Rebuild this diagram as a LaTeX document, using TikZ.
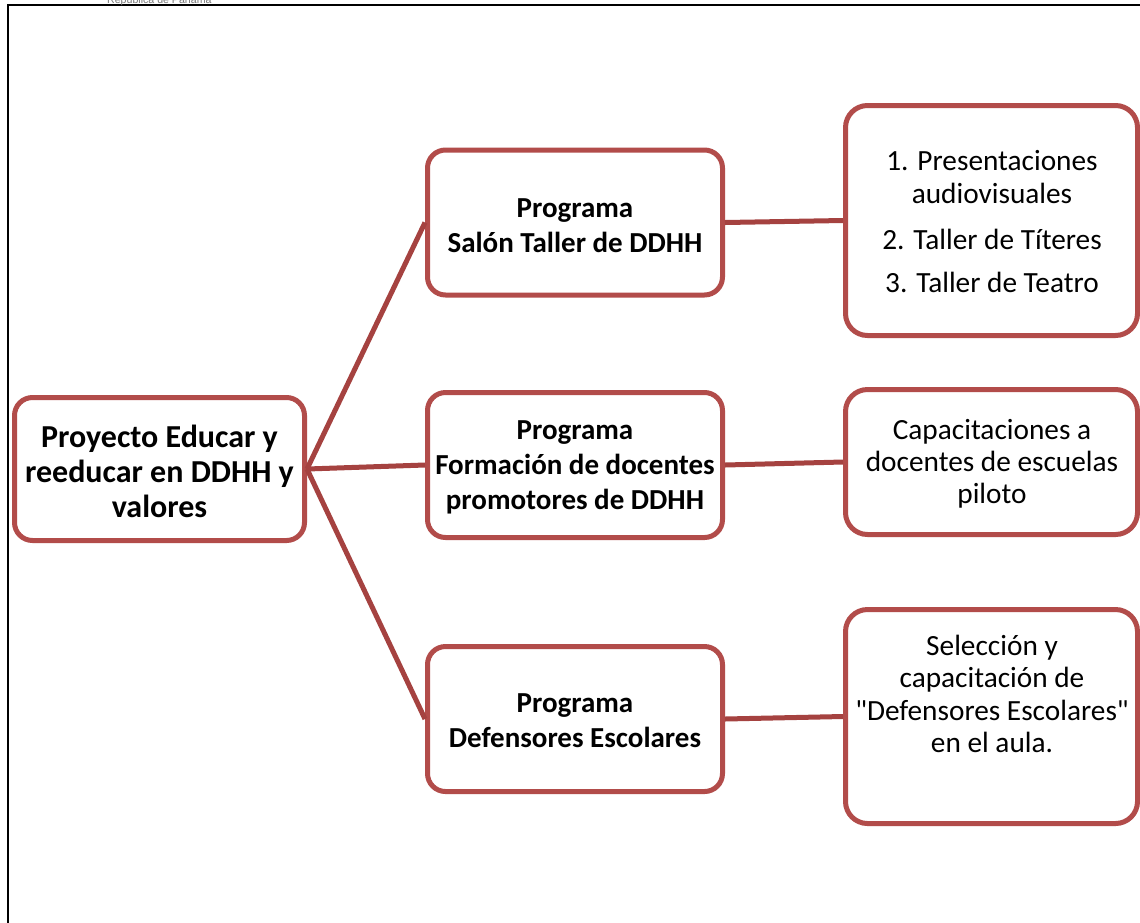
\documentclass[tikz,border=0pt]{standalone}
\usepackage{fontspec}
\setmainfont{Carlito}
\newfontfamily\headfont{Liberation Sans}
\definecolor{boxred}{RGB}{178,76,74}
\definecolor{linered}{RGB}{165,66,64}
\definecolor{headgray}{RGB}{120,120,120}
\begin{document}
\begin{tikzpicture}[x=1pt,y=-1pt,
  box/.style={draw=boxred, line width=5pt, rounded corners=18pt, fill=white, inner sep=0pt},
  rootbox/.style={box, minimum width=290pt, minimum height=143pt},
  midbox/.style={box, minimum width=295pt, minimum height=145pt},
  rightbox/.style={box, rounded corners=22pt, minimum width=292pt},
  roottxt/.style={align=center, font=\fontsize{32}{35}\selectfont\bfseries, inner sep=0pt},
  boldtxt/.style={align=center, font=\fontsize{29}{35}\selectfont\bfseries, inner sep=0pt},
  plaintxt/.style={align=center, font=\fontsize{29.3}{32.5}\selectfont, inner sep=0pt},
  link/.style={draw=linered, line width=5pt}
]
\useasboundingbox (0,0) rectangle (1140,922);
\clip (0,0) rectangle (1140,922);
\fill[white] (0,0) rectangle (1140,922);
% page frame
\draw[line width=2pt, black] (1141,5) -- (8,5) -- (8,923);
\node[font=\headfont\fontsize{10.6}{12}\selectfont, text=headgray, anchor=base west, inner sep=0pt] (hdr) at (107,3) {República de Panamá};

% boxes
\node[rootbox] (root) at (159.5,469) {};
\node[midbox] (m1) at (575,222.5) {};
\node[midbox] (m2) at (575,465) {};
\node[midbox] (m3) at (575,719) {};
\node[rightbox, minimum height=230pt] (r1) at (991.5,220.5) {};
\node[rightbox, minimum height=145pt] (r2) at (991.5,462) {};
\node[rightbox, minimum height=214pt] (r3) at (991.5,716.5) {};

% connectors
\draw[link] (root.east) -- (m1.west);
\draw[link] (root.east) -- (m2.west);
\draw[link] (root.east) -- (m3.west);
\draw[link] (m1.east) -- (r1.west);
\draw[link] (m2.east) -- (r2.west);
\draw[link] (m3.east) -- (r3.west);

% texts
\node[roottxt] (troot) at (159.5,471) {Proyecto Educar y\\reeducar en DDHH y\\valores};
\node[boldtxt] (tm1) at (575,226) {Programa\\Salón Taller de DDHH};
\node[boldtxt] (tm2) at (575,467.5) {Programa\\Formación de docentes\\promotores de DDHH};
\node[boldtxt] (tm3) at (575,721) {Programa\\Defensores Escolares};
\node[plaintxt] (tr1) at (992,221.5) {1. Presentaciones\\[0.5pt]audiovisuales\\[14pt]2. Taller de Títeres\\[10pt]3. Taller de Teatro};
\node[plaintxt, font=\fontsize{29.3}{32}\selectfont] (tr2) at (992,464) {Capacitaciones a\\docentes de escuelas\\piloto};
\node[plaintxt] (tr3) at (992,694) {Selección y\\capacitación de\\\textquotedbl Defensores Escolares\textquotedbl\\en el aula.};
\end{tikzpicture}
\end{document}
